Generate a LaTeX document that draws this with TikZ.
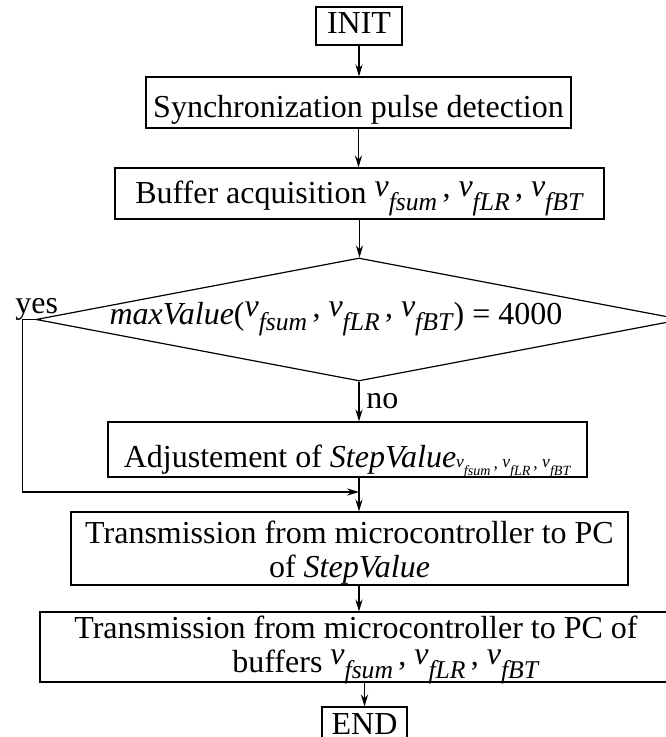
\documentclass[tikz,border=0pt]{standalone}
\usepackage{graphicx}
\usepackage{fontspec}
\setmainfont{Liberation Serif}
\usetikzlibrary{
  shapes.geometric,
  arrows.meta
}
\newcommand{\vv}[1]{\raisebox{0.23em}{\textit{v}}\raisebox{-0.2em}{\scalebox{0.8}{\textit{#1}}}}
\newcommand{\cma}{\raisebox{0.2em}{,}}
\newcommand{\vtriple}{\vv{fsum}\,\cma\ \vv{fLR}\,\cma\ \vv{fBT}}

\begin{document}
\begin{tikzpicture}[
  x=0.5pt, y=-0.5pt,
  every node/.style = {font=\fontsize{16}{17}\selectfont},
  box/.style = {draw, rectangle, line width=0.6pt, inner sep=2pt, align=center},
  decision/.style = {draw, diamond, aspect=5.25, line width=0.6pt,
    minimum width=323pt, minimum height=61.5pt, inner sep=0pt},
  arr/.style = {line width=0.6pt, -{Stealth[length=6pt,width=3.6pt,inset=2pt]}}]
  \useasboundingbox (0,0) rectangle (665,737);
  \node[box, minimum width=43pt, text height=11.5pt, text depth=3.5pt] (init) at (359,26) {INIT};
  \node[box, minimum width=212.5pt, text height=18.5pt, text depth=3pt] (sync) at (358.5,102.5)
    {Synchronization pulse detection};
  \node[box, minimum width=244.5pt, text height=16pt, text depth=5.5pt] (buf) at (359.5,193.5)
    {Buffer acquisition \vtriple};
  \node[decision] (dec) at (359,319.5) {};
  \node (dectxt) at (336,319) {\textit{maxValue}(\vtriple) = 4000};
  \node[anchor=base west, inner sep=0pt] (yes) at (15,313) {yes};
  \node[box, minimum width=239.5pt, text height=20.5pt, text depth=3pt] (adj) at (347.5,449.5)
    {Adjustement of \textit{StepValue}\raisebox{-0.15em}{\scalebox{0.55}{\vtriple}}};
  \node[box, minimum width=278.5pt, text height=30.5pt, text depth=2pt] (tr1) at (349.5,548.5)
    {Transmission from microcontroller to PC\\ of \textit{StepValue}};
  \node[box, minimum width=316pt, text height=28pt, text depth=3pt] (tr2) at (356,647)
    {Transmission from microcontroller to PC of\\ \hspace*{30pt}buffers \vtriple};
  \node[box, minimum width=42.5pt, text height=11.5pt, text depth=3.5pt] (stop) at (364.5,726) {END};
  \coordinate (join) at (359,492);

  \draw[arr] (init.south) -- (init.south |- sync.north);
  \draw[arr] (sync.south) -- (sync.south |- buf.north);
  \draw[arr] (buf.south) -- (buf.south |- dec.north);
  \draw[arr] (dec.south) -- node[right] (no) {no} (dec.south |- adj.north);
  \draw[arr] (dec.west) -- ++(-13,0) |- (join);
  \draw[arr] (adj.south -| dec.south) -- (tr1.north -| dec.south);
  \draw[arr] (tr1.south -| dec.south) -- (tr2.north -| dec.south);
  \draw[arr] (stop.north |- tr2.south) -- (stop.north);
\end{tikzpicture}
\end{document}
